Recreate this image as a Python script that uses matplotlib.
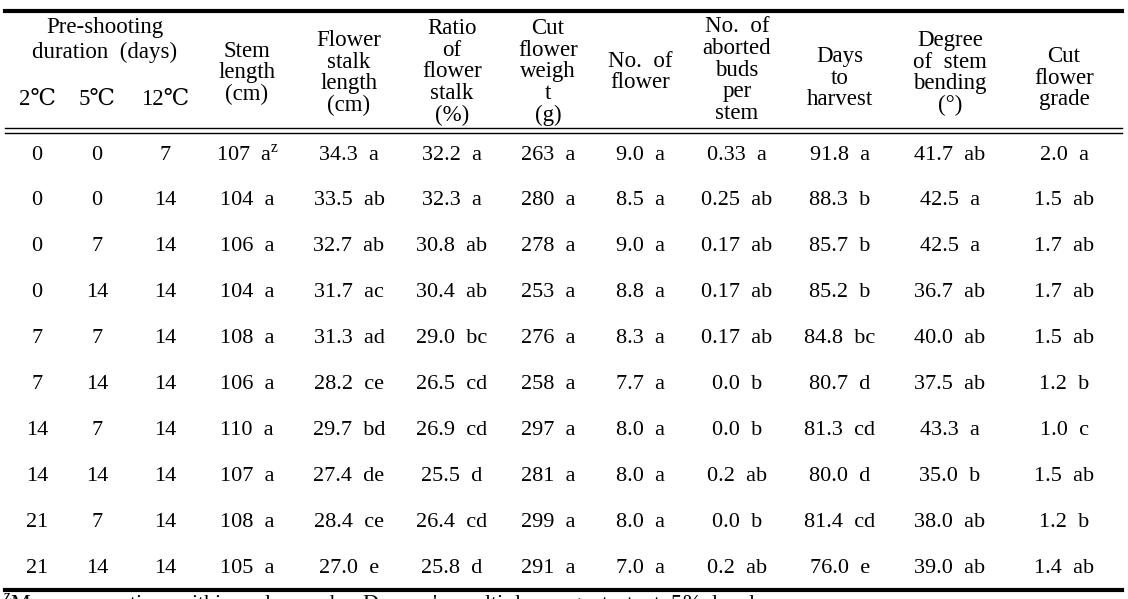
import matplotlib.pyplot as plt

plt.rcParams['font.family'] = ['Liberation Serif', 'DejaVu Serif', 'DejaVu Sans']
plt.rcParams['mathtext.fontset'] = 'custom'
plt.rcParams['mathtext.rm'] = 'Liberation Serif'

# Table data
temp_2c = [0, 0, 0, 0, 7, 7, 14, 14, 21, 21]
temp_5c = [0, 0, 7, 14, 7, 14, 7, 14, 7, 14]
temp_12c = [7, 14, 14, 14, 14, 14, 14, 14, 14, 14]
stem_length = [107, 104, 106, 104, 108, 106, 110, 107, 108, 105]
stem_letters = ['a', 'a', 'a', 'a', 'a', 'a', 'a', 'a', 'a', 'a']
stalk_length = [34.3, 33.5, 32.7, 31.7, 31.3, 28.2, 29.7, 27.4, 28.4, 27.0]
stalk_letters = ['a', 'ab', 'ab', 'ac', 'ad', 'ce', 'bd', 'de', 'ce', 'e']
stalk_ratio = [32.2, 32.3, 30.8, 30.4, 29.0, 26.5, 26.9, 25.5, 26.4, 25.8]
ratio_letters = ['a', 'a', 'ab', 'ab', 'bc', 'cd', 'cd', 'd', 'cd', 'd']
flower_weight = [263, 280, 278, 253, 276, 258, 297, 281, 299, 291]
weight_letters = ['a'] * 10
n_flower = [9.0, 8.5, 9.0, 8.8, 8.3, 7.7, 8.0, 8.0, 8.0, 7.0]
n_flower_letters = ['a'] * 10
aborted_buds = ['0.33', '0.25', '0.17', '0.17', '0.17', '0.0', '0.0', '0.2', '0.0', '0.2']
aborted_letters = ['a', 'ab', 'ab', 'ab', 'ab', 'b', 'b', 'ab', 'b', 'ab']
days_harvest = [91.8, 88.3, 85.7, 85.2, 84.8, 80.7, 81.3, 80.0, 81.4, 76.0]
days_letters = ['a', 'b', 'b', 'b', 'bc', 'd', 'cd', 'd', 'cd', 'e']
stem_bending = [41.7, 42.5, 42.5, 36.7, 40.0, 37.5, 43.3, 35.0, 38.0, 39.0]
bending_letters = ['ab', 'a', 'a', 'ab', 'ab', 'ab', 'a', 'b', 'ab', 'ab']
flower_grade = [2.0, 1.5, 1.7, 1.7, 1.5, 1.2, 1.0, 1.5, 1.2, 1.4]
grade_letters = ['a', 'ab', 'ab', 'ab', 'ab', 'b', 'c', 'ab', 'b', 'ab']

headers = ['Stem\nlength\n(cm)', 'Flower\nstalk\nlength\n(cm)', 'Ratio\nof\nflower\nstalk\n(%)',
           'Cut\nflower\nweigh\nt\n(g)', 'No.  of\nflower', 'No.  of\naborted\nbuds\nper\nstem',
           'Days\nto\nharvest', 'Degree\nof  stem\nbending\n(°)', 'Cut\nflower\ngrade']
temp_headers = ['2℃', '5℃', '12℃']
footnote = "$^{\\rm z}$Mean  separation  within  columns  by  Duncan's  multiple  range  test  at  5%  level."

fig = plt.figure(figsize=(11.28, 5.99), dpi=100)
ax = fig.add_axes([0, 0, 1, 1])
ax.set_xlim(0, 1128)
ax.set_ylim(599, 0)
ax.axis('off')

fs = 16
hfs = 16.5
col_x = [37, 97, 165, 247, 349, 452, 548, 640, 737, 840, 950, 1064]
head_y = [73, 73, 72, 72, 72, 70, 78, 73, 78]

# rules
ax.plot([5, 1122], [11, 11], color='black', lw=3)
ax.plot([5, 1122], [128, 128], color='black', lw=1)
ax.plot([5, 1122], [133, 133], color='black', lw=1)
ax.plot([5, 1122], [590, 590], color='black', lw=3)

# header
ax.text(105, 40, 'Pre-shooting\nduration  (days)', ha='center', va='center',
        fontsize=hfs, linespacing=1.2)
for x, t in zip(col_x[:3], temp_headers):
    ax.text(x, 99, t, ha='center', va='center', fontsize=hfs)
for x, y, t in zip(col_x[3:], head_y, headers):
    ax.text(x, y, t, ha='center', va='center', fontsize=hfs, linespacing=1.04,
            multialignment='center')

# body
columns = [
    [str(v) for v in temp_2c],
    [str(v) for v in temp_5c],
    [str(v) for v in temp_12c],
    [f'{v}  {l}' for v, l in zip(stem_length, stem_letters)],
    [f'{v:.1f}  {l}' for v, l in zip(stalk_length, stalk_letters)],
    [f'{v:.1f}  {l}' for v, l in zip(stalk_ratio, ratio_letters)],
    [f'{v}  {l}' for v, l in zip(flower_weight, weight_letters)],
    [f'{v:.1f}  {l}' for v, l in zip(n_flower, n_flower_letters)],
    [f'{v}  {l}' for v, l in zip(aborted_buds, aborted_letters)],
    [f'{v:.1f}  {l}' for v, l in zip(days_harvest, days_letters)],
    [f'{v:.1f}  {l}' for v, l in zip(stem_bending, bending_letters)],
    [f'{v:.1f}  {l}' for v, l in zip(flower_grade, grade_letters)],
]
columns[3][0] = columns[3][0] + '$^{\\rm z}$'

for x, col in zip(col_x, columns):
    for i, s in enumerate(col):
        ax.text(x, 155 + i * 45.9, s, ha='center', va='center', fontsize=fs)

ax.text(3, 592, footnote, ha='left', va='top', fontsize=fs)

fig.savefig('out.png', dpi=100)
